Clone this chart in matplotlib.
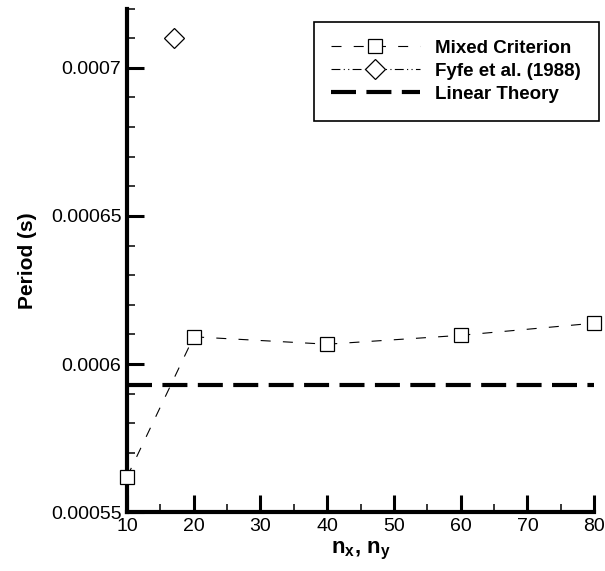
import matplotlib
matplotlib.use("Agg")
import matplotlib.pyplot as plt
from matplotlib.ticker import MultipleLocator, FuncFormatter

plt.rcParams['font.family'] = ['Liberation Sans', 'DejaVu Sans']
plt.rcParams['mathtext.fontset'] = 'custom'
plt.rcParams['mathtext.rm'] = 'Liberation Sans'
plt.rcParams['mathtext.bf'] = 'Liberation Sans:bold'

# grid resolution vs. period
n_mixed = [10, 20, 40, 60, 80]
period_mixed = [0.0005619, 0.0006092, 0.0006067, 0.0006097, 0.0006138]
n_fyfe = [17]
period_fyfe = [0.00071]
period_linear = 0.0005929

fig = plt.figure(figsize=(6.05, 5.71), dpi=100)
ax = fig.add_axes([0.21, 0.103, 0.772, 0.882])

ax.plot(n_mixed, period_mixed, color='black', lw=0.8, ls=(0, (9, 11)),
        marker='s', ms=9.5, mfc='white', mec='black', mew=0.9,
        label='Mixed Criterion', clip_on=False, zorder=3)
ax.plot(n_fyfe, period_fyfe, color='black', lw=0.8, ls=(0, (8, 3, 1, 3, 1, 3)),
        marker='D', ms=10, mfc='white', mec='black', mew=0.9,
        label='Fyfe et al. (1988)', clip_on=False, zorder=3)
ax.axhline(period_linear, color='black', lw=3, ls=(0, (6, 2.5)),
           label='Linear Theory')

ax.set_xlim(10, 80)
ax.set_ylim(0.00055, 0.00072)
ax.xaxis.set_major_locator(MultipleLocator(10))
ax.xaxis.set_minor_locator(MultipleLocator(5))
ax.yaxis.set_major_locator(MultipleLocator(0.00005))
ax.yaxis.set_minor_locator(MultipleLocator(0.00001))
ax.yaxis.set_major_formatter(FuncFormatter(lambda v, p: '%g' % round(v, 8)))

for s in ['top', 'right']:
    ax.spines[s].set_visible(False)
for s in ['left', 'bottom']:
    ax.spines[s].set_linewidth(3)

ax.tick_params(which='major', direction='in', length=12, width=2.2,
               labelsize=14, pad=4)
ax.tick_params(which='minor', direction='in', length=6, width=1.1)

ax.set_xlabel(r'$\mathbf{n_x}$, $\mathbf{n_y}$', fontsize=16,
              fontweight='bold', labelpad=4)
ax.set_ylabel('Period (s)', fontsize=15, fontweight='bold', labelpad=10)

leg = ax.legend(loc='upper right', bbox_to_anchor=(599 / 605, 1 - 21.7 / 571),
                bbox_transform=fig.transFigure,
                prop={'weight': 'bold', 'size': 13.5}, frameon=True,
                fancybox=False, edgecolor='black', handlelength=4.7,
                handletextpad=0.85, borderpad=0.95, labelspacing=0.32,
                borderaxespad=0, framealpha=1)
leg.get_frame().set_linewidth(1.2)

fig.savefig('out.png', dpi=100)
